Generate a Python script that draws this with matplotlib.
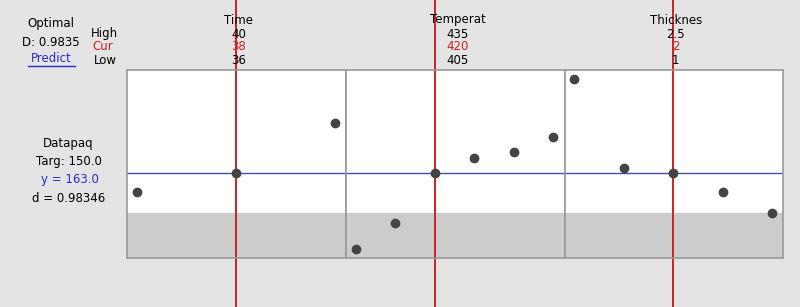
import matplotlib.pyplot as plt
from matplotlib.lines import Line2D
import matplotlib.transforms as mtransforms

# factor settings (points evaluated along each factor) and predicted response
time_x = [36, 38, 40]
time_y = [156.9, 163.0, 179.5]
temp_x = [405, 411, 417, 423, 429, 435]
temp_y = [138.0, 146.6, 163.0, 168.0, 170.0, 174.9]
thick_x = [1.0, 1.375, 1.75, 2.125, 2.5]
thick_y = [193.8, 164.6, 163.0, 156.7, 150.0]

factor_names = ['Time', 'Temperat', 'Thicknes']
high_labels = ['40', '435', '2.5']
cur_labels = ['38', '420', '2']
low_labels = ['36', '405', '1']
cur_pos = [38, 417, 1.75]
lows = [36, 405, 1.0]
highs = [40, 435, 2.5]

target = 150.0
y_pred = 163.0
ylims = (135.1, 196.8)

W, H = 800, 307
fig = plt.figure(figsize=(W / 100, H / 100), dpi=100, facecolor='#e4e4e4')

def fx(px):
    return px / W

def fy(py):
    return 1 - py / H

left, right, top, bottom = 127.5, 783, 70, 258
pw = (right - left) / 3
red = '#cc2222'
blue = '#4a4aaa'
series = [(time_x, time_y), (temp_x, temp_y), (thick_x, thick_y)]
label_shift = [0.06, 3.5, 0.02]

for i, (xs, ys) in enumerate(series):
    ax = fig.add_axes([fx(left + i * pw), fy(bottom), pw / W, (bottom - top) / H])
    span = highs[i] - lows[i]
    pad_l = span * 9.5 / 198
    pad_r = span * 11 / 198
    ax.set_xlim(lows[i] - pad_l, highs[i] + pad_r)
    ax.set_ylim(*ylims)
    ax.set_facecolor('white')
    ax.axhspan(ylims[0], target, color='#cccccc', zorder=0)
    ax.axhline(y_pred, color=blue, lw=1.0, zorder=1)
    ax.plot(xs, ys, 'o', color='#444444', ms=6, zorder=3)
    ax.axvline(cur_pos[i], ymin=-0.3, ymax=1.4, color=red, lw=1.4,
               clip_on=False, zorder=2)
    ax.set_xticks([])
    ax.set_yticks([])
    for s in ax.spines.values():
        s.set_color('#999999')
        s.set_linewidth(1.2)

    trans = mtransforms.blended_transform_factory(ax.transData, fig.transFigure)
    lx = cur_pos[i] + label_shift[i]
    ax.text(lx, fy(20), factor_names[i], transform=trans, ha='center', va='center', fontsize=8.5)
    ax.text(lx, fy(34), high_labels[i], transform=trans, ha='center', va='center', fontsize=8.5)
    ax.text(lx, fy(47), cur_labels[i], transform=trans, ha='center', va='center', fontsize=8.5, color=red)
    ax.text(lx, fy(61), low_labels[i], transform=trans, ha='center', va='center', fontsize=8.5)

# left side annotations
fs = 8.5
fig.text(fx(51), fy(24), 'Optimal', ha='center', va='center', fontsize=fs)
fig.text(fx(51), fy(42), 'D: 0.9835', ha='center', va='center', fontsize=fs)
fig.text(fx(51), fy(59), 'Predict', ha='center', va='center', fontsize=fs, color='#2a2acc')
fig.add_artist(Line2D([fx(28), fx(75)], [fy(66), fy(66)], color='#2a2acc', lw=1.0))
fig.text(fx(104), fy(34), 'High', ha='center', va='center', fontsize=fs)
fig.text(fx(103), fy(47), 'Cur', ha='center', va='center', fontsize=fs, color=red)
fig.text(fx(105), fy(60), 'Low', ha='center', va='center', fontsize=fs)

fig.text(fx(68), fy(143), 'Datapaq', ha='center', va='center', fontsize=fs)
fig.text(fx(69), fy(161), f'Targ: {target:.1f}', ha='center', va='center', fontsize=fs)
fig.text(fx(70), fy(180), f'y = {y_pred:.1f}', ha='center', va='center', fontsize=fs, color='#2a2acc')
fig.text(fx(69), fy(198), 'd = 0.98346', ha='center', va='center', fontsize=fs)

fig.savefig('out.png', dpi=100, facecolor=fig.get_facecolor())
